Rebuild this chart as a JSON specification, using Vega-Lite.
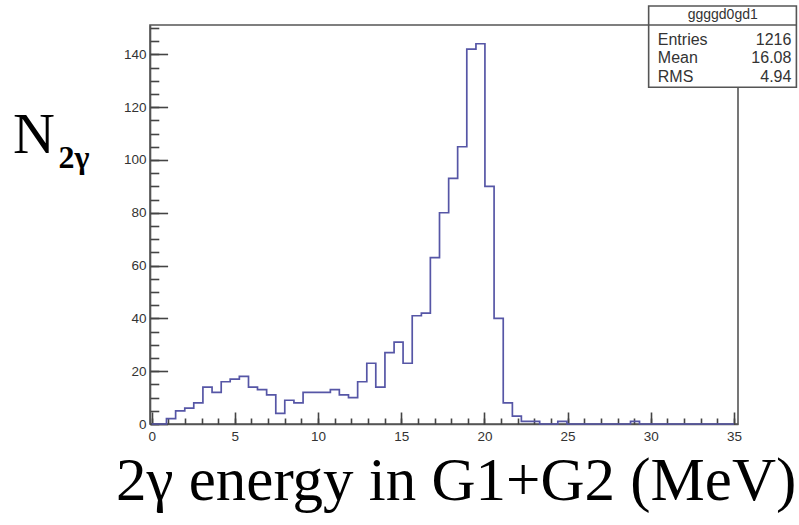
{
  "$schema": "https://vega.github.io/schema/vega-lite/v6.json",
  "width": 588,
  "height": 399,
  "autosize": {"type": "none"},
  "padding": {"left": 150, "top": 25, "right": 61, "bottom": 101},
  "background": "white",
  "config": {
    "view": {"stroke": "#555555", "strokeWidth": 1.6},
    "axis": {"grid": false, "title": null, "domainColor": "#555555", "tickColor": "#444444", "domainWidth": 1.6, "tickWidth": 1.6, "labelFont": "Liberation Sans", "labelFontSize": 13.5, "labelColor": "#333333"}
  },
  "datasets": {
    "hist": [
      {"e": 0, "n": 0}, {"e": 0.89, "n": 2}, {"e": 1.44, "n": 5}, {"e": 1.99, "n": 6},
      {"e": 2.53, "n": 8}, {"e": 3.08, "n": 14}, {"e": 3.63, "n": 12}, {"e": 4.18, "n": 16},
      {"e": 4.72, "n": 17}, {"e": 5.27, "n": 18}, {"e": 5.82, "n": 14}, {"e": 6.36, "n": 13},
      {"e": 6.91, "n": 11}, {"e": 7.46, "n": 4}, {"e": 8.0, "n": 9}, {"e": 8.55, "n": 8},
      {"e": 9.1, "n": 12}, {"e": 9.64, "n": 12}, {"e": 10.19, "n": 12}, {"e": 10.74, "n": 13},
      {"e": 11.28, "n": 11}, {"e": 11.83, "n": 10}, {"e": 12.38, "n": 16}, {"e": 12.93, "n": 23},
      {"e": 13.47, "n": 14}, {"e": 14.02, "n": 27}, {"e": 14.57, "n": 31}, {"e": 15.11, "n": 23},
      {"e": 15.66, "n": 41}, {"e": 16.21, "n": 42}, {"e": 16.75, "n": 63}, {"e": 17.3, "n": 80},
      {"e": 17.85, "n": 93}, {"e": 18.39, "n": 105}, {"e": 18.94, "n": 142}, {"e": 19.49, "n": 144},
      {"e": 20.03, "n": 90}, {"e": 20.58, "n": 40}, {"e": 21.13, "n": 8}, {"e": 21.68, "n": 3},
      {"e": 22.22, "n": 1}, {"e": 22.77, "n": 1}, {"e": 23.32, "n": 0}, {"e": 24.41, "n": 1},
      {"e": 24.96, "n": 0}, {"e": 28.78, "n": 1}, {"e": 29.32, "n": 0}, {"e": 35, "n": 0}
    ],
    "box": [{"x1": 29.87, "x2": 38.75, "y1": 158.3, "y2": 127.5, "ys": 151.1}],
    "statlabels": [
      {"x": 30.42, "y": 143.5, "t": "Entries"},
      {"x": 30.42, "y": 136.6, "t": "Mean"},
      {"x": 30.42, "y": 129.6, "t": "RMS"}
    ],
    "statvalues": [
      {"x": 38.45, "y": 143.5, "t": "1216"},
      {"x": 38.45, "y": 136.6, "t": "16.08"},
      {"x": 38.45, "y": 129.6, "t": "4.94"}
    ],
    "stattitle": [{"x": 34.32, "y": 153.2, "t": "ggggd0gd1"}],
    "ytitle": [{"x": -8.33, "y": 102.5, "t": "N"}],
    "ysub": [{"x": -5.6, "y": 96.9, "t": "2γ"}],
    "xtitle": [{"x": 18.3, "y": -28.8, "t": "2γ energy in G1+G2 (MeV)"}]
  },
  "layer": [
    {
      "data": {"name": "hist"},
      "mark": {"type": "line", "interpolate": "step-after", "color": "#5656a6", "strokeWidth": 1.7, "clip": false},
      "encoding": {
        "x": {"field": "e", "type": "quantitative", "scale": {"domain": [-0.1, 35.24], "nice": false, "zero": false},
          "axis": {"orient": "bottom", "values": [0, 5, 10, 15, 20, 25, 30, 35], "ticks": false, "labelPadding": 5}},
        "y": {"field": "n", "type": "quantitative", "scale": {"domain": [0, 151.1], "nice": false},
          "axis": {"orient": "left", "values": [0, 20, 40, 60, 80, 100, 120, 140], "ticks": false, "labelPadding": 4}}
      }
    },
    {
      "data": {"name": "hist"},
      "mark": {"type": "line", "opacity": 0},
      "encoding": {
        "x": {"field": "e", "type": "quantitative",
          "axis": {"orient": "bottom", "values": [0, 5, 10, 15, 20, 25, 30, 35], "tickSize": -12, "labels": false, "domain": false}},
        "y": {"field": "n", "type": "quantitative",
          "axis": {"orient": "left", "values": [0, 20, 40, 60, 80, 100, 120, 140], "tickSize": -17.6, "labels": false, "domain": false}}
      }
    },
    {
      "data": {"name": "hist"},
      "mark": {"type": "line", "opacity": 0},
      "encoding": {
        "x": {"field": "e", "type": "quantitative",
          "axis": {"orient": "bottom", "values": [0,1,2,3,4,5,6,7,8,9,10,11,12,13,14,15,16,17,18,19,20,21,22,23,24,25,26,27,28,29,30,31,32,33,34,35], "tickSize": -6, "labels": false, "domain": false}},
        "y": {"field": "n", "type": "quantitative",
          "axis": {"orient": "left", "values": [0,5,10,15,20,25,30,35,40,45,50,55,60,65,70,75,80,85,90,95,100,105,110,115,120,125,130,135,140,145,150], "tickSize": -8.8, "labels": false, "domain": false}}
      }
    },
    {
      "data": {"name": "box"},
      "mark": {"type": "rect", "fill": "white", "stroke": "#555555", "strokeWidth": 1.6, "clip": false},
      "encoding": {
        "x": {"field": "x1", "type": "quantitative", "axis": null},
        "x2": {"field": "x2"},
        "y": {"field": "y1", "type": "quantitative", "axis": null},
        "y2": {"field": "y2"}
      }
    },
    {
      "data": {"name": "box"},
      "mark": {"type": "rule", "color": "#555555", "strokeWidth": 1.4, "clip": false},
      "encoding": {
        "x": {"field": "x1", "type": "quantitative", "axis": null},
        "x2": {"field": "x2"},
        "y": {"field": "ys", "type": "quantitative", "axis": null}
      }
    },
    {
      "data": {"name": "stattitle"},
      "mark": {"type": "text", "font": "Liberation Sans", "fontSize": 14, "color": "#333333", "align": "center", "baseline": "alphabetic", "clip": false},
      "encoding": {
        "x": {"field": "x", "type": "quantitative", "axis": null},
        "y": {"field": "y", "type": "quantitative", "axis": null},
        "text": {"field": "t"}
      }
    },
    {
      "data": {"name": "statlabels"},
      "mark": {"type": "text", "font": "Liberation Sans", "fontSize": 16, "color": "#333333", "align": "left", "baseline": "alphabetic", "clip": false},
      "encoding": {
        "x": {"field": "x", "type": "quantitative", "axis": null},
        "y": {"field": "y", "type": "quantitative", "axis": null},
        "text": {"field": "t"}
      }
    },
    {
      "data": {"name": "statvalues"},
      "mark": {"type": "text", "font": "Liberation Sans", "fontSize": 16, "color": "#333333", "align": "right", "baseline": "alphabetic", "clip": false},
      "encoding": {
        "x": {"field": "x", "type": "quantitative", "axis": null},
        "y": {"field": "y", "type": "quantitative", "axis": null},
        "text": {"field": "t"}
      }
    },
    {
      "data": {"name": "ytitle"},
      "mark": {"type": "text", "font": "Liberation Serif", "fontSize": 58, "color": "black", "align": "left", "baseline": "alphabetic", "clip": false},
      "encoding": {
        "x": {"field": "x", "type": "quantitative", "axis": null},
        "y": {"field": "y", "type": "quantitative", "axis": null},
        "text": {"field": "t"}
      }
    },
    {
      "data": {"name": "ysub"},
      "mark": {"type": "text", "font": "Liberation Serif", "fontSize": 32, "fontWeight": "bold", "color": "black", "align": "left", "baseline": "alphabetic", "clip": false},
      "encoding": {
        "x": {"field": "x", "type": "quantitative", "axis": null},
        "y": {"field": "y", "type": "quantitative", "axis": null},
        "text": {"field": "t"}
      }
    },
    {
      "data": {"name": "xtitle"},
      "mark": {"type": "text", "font": "Liberation Serif", "fontSize": 61, "color": "black", "align": "center", "baseline": "alphabetic", "clip": false},
      "encoding": {
        "x": {"field": "x", "type": "quantitative", "axis": null},
        "y": {"field": "y", "type": "quantitative", "axis": null},
        "text": {"field": "t"}
      }
    }
  ],
  "resolve": {"axis": {"x": "independent", "y": "independent"}}
}
